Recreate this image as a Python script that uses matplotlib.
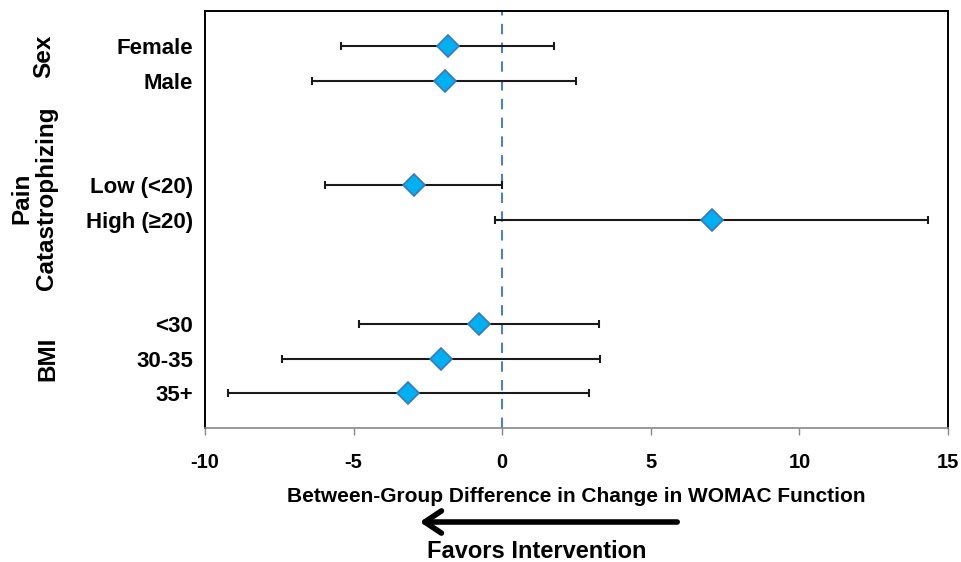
import numpy as np
import matplotlib
matplotlib.use("Agg")
from matplotlib import pyplot as plt

plt.rcParams['font.family'] = ['Liberation Sans', 'DejaVu Sans']
plt.rcParams['font.weight'] = 'bold'

# subgroup estimates with 95% CI
labels = ["Female", "Male", "Low (<20)", "High (\u226520)", "<30", "30-35", "35+"]
rows = [0, 1, 4, 5, 8, 9, 10]
estimate = [-1.84, -1.94, -2.98, 7.05, -0.78, -2.06, -3.16]
lower = [-5.43, -6.39, -5.95, -0.25, -4.81, -7.41, -9.22]
upper = [1.75, 2.49, 0.0, 14.33, 3.25, 3.29, 2.91]

groups = ["Sex", "Pain\nCatastrophizing", "BMI"]
group_pos = [0.3, 4.4, 9.0]
group_x = [44, 34, 48]

xticks = [-10, -5, 0, 5, 10, 15]

fig = plt.figure(figsize=(9.61, 5.62), dpi=100)
ax = fig.add_axes([0.2133, 0.2384, 0.7732, 0.742])

est = np.array(estimate)
err = np.vstack([est - np.array(lower), np.array(upper) - est])

ax.axvline(0, color='#4F81BD', linestyle=(0, (5, 4)), linewidth=1.5, zorder=1)
ax.errorbar(est, rows, xerr=err, fmt='none', ecolor='#1a1a1a',
            elinewidth=1.5, capsize=3, capthick=1.5, zorder=2)
ax.plot(est, rows, 'D', markersize=11, markerfacecolor='#00B0F0',
        markeredgecolor='#3A78C0', markeredgewidth=1.2, linestyle='none', zorder=3)

ax.set_xlim(-10, 15)
ax.set_ylim(11, -1)
ax.set_xticks(xticks)
ax.set_xticklabels([str(t) for t in xticks], fontsize=14.5, fontweight='bold')
ax.set_yticks(rows)
ax.set_yticklabels(labels, fontsize=16, fontweight='bold')
ax.tick_params(axis='y', length=0, pad=8.5)
ax.tick_params(axis='x', length=5, width=1, color='#888888', direction='out', pad=13)

for side in ['top', 'left', 'right']:
    ax.spines[side].set_color('black')
    ax.spines[side].set_linewidth(1.4)
ax.spines['bottom'].set_color('#888888')
ax.spines['bottom'].set_linewidth(1.2)

ax.set_xlabel("Between-Group Difference in Change in WOMAC Function",
              fontsize=15, fontweight='bold', labelpad=11)

# group labels on the left
for g, p, gx in zip(groups, group_pos, group_x):
    ax.annotate(g, xy=(0, p), xycoords=('figure fraction', 'data'),
                xytext=(gx, 0), textcoords='offset pixels',
                rotation=90, ha='center', va='center', fontsize=17.5,
                fontweight='bold', multialignment='center', linespacing=1.1)

# arrow below
fig.patches.append(matplotlib.patches.FancyArrowPatch(
    (680 / 961, 1 - 522 / 562), (417 / 961, 1 - 522 / 562),
    transform=fig.transFigure, arrowstyle='->,head_length=0.6,head_width=0.4',
    color='black', linewidth=4, mutation_scale=20))
fig.text(537 / 961, 1 - 551 / 562, "Favors Intervention", ha='center', va='center',
         fontsize=17, fontweight='bold')

fig.savefig("out.png", dpi=100)
